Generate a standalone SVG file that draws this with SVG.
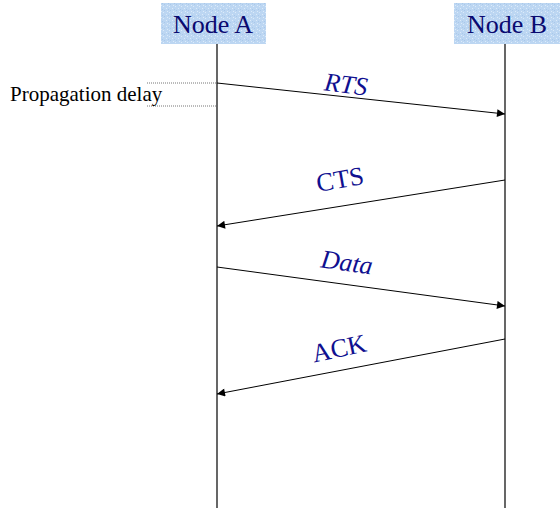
<svg xmlns="http://www.w3.org/2000/svg" width="560" height="508" viewBox="0 0 560 508">
<style>
.nl{fill:#0a0a70;text-anchor:middle}
.life{stroke:#000;stroke-width:1.2;fill:none}
.msg{stroke:#000;stroke-width:1;fill:none;marker-end:url(#ah)}
.ml{fill:#101090;text-anchor:middle}
.dot{stroke:#777;stroke-width:1;stroke-dasharray:1 1;fill:none}
.pd{fill:#000}
</style>
<defs>
<pattern id="tex" width="6" height="6" patternUnits="userSpaceOnUse">
<rect width="6" height="6" fill="#bcd6f2"/>
<rect x="1" y="0" width="1" height="1" fill="#dcebfa"/>
<rect x="4" y="2" width="1" height="1" fill="#dcebfa"/>
<rect x="2" y="4" width="1" height="1" fill="#a9c8ea"/>
<rect x="5" y="5" width="1" height="1" fill="#dcebfa"/>
<rect x="0" y="3" width="1" height="1" fill="#a9c8ea"/>
</pattern>
<marker id="ah" viewBox="0 0 10 10" refX="10" refY="5" markerWidth="10" markerHeight="8" markerUnits="userSpaceOnUse" orient="auto">
<path d="M0,0 L10,5 L0,10 z" fill="#000"/>
</marker>
</defs>
<rect width="560" height="508" fill="#fff"/>
<g id="nodeA">
<rect x="161" y="3" width="105" height="41" fill="url(#tex)"/>
<text class="nl" font-size="26" font-family="Liberation Serif, Times New Roman, serif" x="213" y="33">Node A</text>
<line class="life" x1="217" y1="44" x2="217" y2="508"/>
</g>
<g id="nodeB">
<rect x="454" y="3" width="106" height="41" fill="url(#tex)"/>
<text class="nl" font-size="26" font-family="Liberation Serif, Times New Roman, serif" x="507" y="33">Node B</text>
<line class="life" x1="505" y1="44" x2="505" y2="508"/>
</g>
<g id="propagation">
<line class="dot" x1="147" y1="83" x2="217" y2="83"/>
<line class="dot" x1="147" y1="106" x2="217" y2="106"/>
<text class="pd" font-size="21" font-family="Liberation Serif, serif" style="font-family:'Liberation Serif',serif" x="10" y="101">Propagation delay</text>
</g>
<g id="connectors">
<line class="msg" x1="217" y1="83" x2="505" y2="114"/>
<line class="msg" x1="505" y1="180" x2="217" y2="226"/>
<line class="msg" x1="217" y1="267" x2="505" y2="306"/>
<line class="msg" x1="505" y1="339" x2="217" y2="394"/>
</g>
<g id="labels" font-family="Liberation Serif, serif">
<text class="ml" font-size="26" style="font-family:'Liberation Serif',serif" font-style="italic" transform="translate(346,84) rotate(7)" y="9">RTS</text>
<text class="ml" font-size="26" style="font-family:'Liberation Serif',serif" transform="translate(340,179) rotate(-10)" y="9">CTS</text>
<text class="ml" font-size="26" style="font-family:'Liberation Serif',serif" font-style="italic" transform="translate(347,262) rotate(8)" y="9">Data</text>
<text class="ml" font-size="26" style="font-family:'Liberation Serif',serif" transform="translate(339,348) rotate(-12)" y="9">ACK</text>
</g>
</svg>
